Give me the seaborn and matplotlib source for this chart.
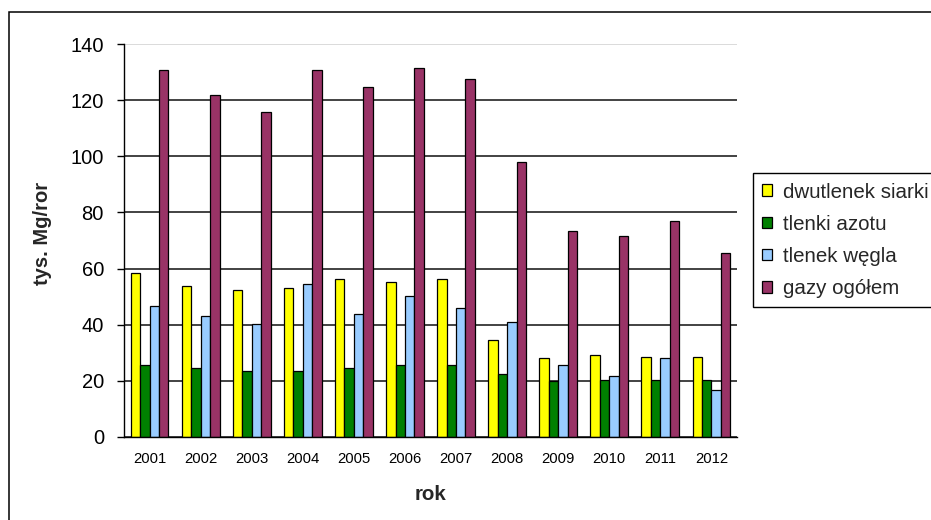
import matplotlib
matplotlib.use("Agg")
import matplotlib.pyplot as plt
import seaborn as sns
import pandas as pd
import numpy as np
from matplotlib.patches import Rectangle
from matplotlib.ticker import FixedLocator, NullFormatter

# Annual emissions, thousand Mg per year
years = ["2001", "2002", "2003", "2004", "2005", "2006",
         "2007", "2008", "2009", "2010", "2011", "2012"]
dwutlenek_siarki = [58.3, 53.8, 52.4, 53.0, 56.4, 55.2, 56.3, 34.6, 28.1, 29.2, 28.6, 28.6]
tlenki_azotu = [25.6, 24.7, 23.6, 23.6, 24.7, 25.6, 25.6, 22.3, 19.8, 20.3, 20.3, 20.3]
tlenek_wegla = [46.8, 43.0, 40.1, 54.4, 43.9, 50.3, 46.0, 41.0, 25.8, 21.7, 28.1, 16.9]
gazy_ogolem = [130.8, 121.8, 115.9, 130.9, 124.8, 131.3, 127.7, 98.1, 73.5, 71.5, 77.0, 65.7]

series_names = ["dwutlenek siarki", "tlenki azotu", "tlenek węgla", "gazy ogółem"]
series_values = [dwutlenek_siarki, tlenki_azotu, tlenek_wegla, gazy_ogolem]
colors = ["#FFFF00", "#008000", "#99CCFF", "#993366"]
yticks = [0, 20, 40, 60, 80, 100, 120, 140]

df = pd.DataFrame({
    "rok": np.tile(years, len(series_names)),
    "wartosc": np.concatenate(series_values),
    "gaz": np.repeat(series_names, len(years)),
})

sns.set_style("white")
plt.rcParams["font.family"] = ["Liberation Sans", "DejaVu Sans"]

W, H = 931, 520
fig = plt.figure(figsize=(W / 100, H / 100), dpi=100)
ax = fig.add_axes([124 / W, 1 - 437 / H, (737 - 124) / W, (437 - 44) / H])

sns.barplot(data=df, x="rok", y="wartosc", hue="gaz", order=years,
            hue_order=series_names, palette=colors, width=0.74,
            edgecolor="black", linewidth=0.9, saturation=1,
            legend=True, ax=ax)

ax.set_xlim(-0.5, len(years) - 0.5)
ax.set_ylim(0, 140)
ax.set_yticks(yticks)
ax.set_axisbelow(True)
ax.yaxis.grid(True, color="#222222", linewidth=1.2)
ax.yaxis.get_gridlines()[-1].set_color("#d4d4d4")
ax.xaxis.grid(False)

for side in ["top", "right"]:
    ax.spines[side].set_visible(False)
for side in ["left", "bottom"]:
    ax.spines[side].set_color("black")
    ax.spines[side].set_linewidth(1.0)

# category labels centred, tick marks on category boundaries
ax.tick_params(axis="x", which="major", length=0, pad=11, labelsize=10.7, colors="black")
ax.xaxis.set_minor_locator(FixedLocator(np.arange(-0.5, len(years), 1.0)))
ax.xaxis.set_minor_formatter(NullFormatter())
ax.tick_params(axis="x", which="minor", length=4, width=1, color="black", direction="out")
ax.tick_params(axis="y", length=5, width=1, color="black", direction="out",
               pad=9.4, labelsize=14.5, labelcolor="black", left=True)

ax.set_xlabel("rok", fontsize=14.8, fontweight="bold")
ax.xaxis.label.set_va("center")
ax.xaxis.set_label_coords(0.5, (437 - 494) / 393)
ax.set_ylabel("tys. Mg/ror", fontsize=14.5, fontweight="bold")
ax.yaxis.label.set_va("center")
ax.yaxis.set_label_coords((42 - 124) / 613, (437 - 233) / 393)

handles, labels = ax.get_legend_handles_labels()
leg = ax.legend(handles, labels, loc="upper left",
                bbox_to_anchor=(752.7 / W, 1 - 173.3 / H),
                bbox_transform=fig.transFigure, borderaxespad=0,
                fontsize=14.8, frameon=True, fancybox=False,
                handlelength=0.5, handleheight=0.5, handletextpad=0.5,
                labelspacing=0.64, borderpad=0.45)
leg.get_frame().set_edgecolor("black")
leg.get_frame().set_linewidth(1.0)
leg.get_frame().set_alpha(1)

# chart border
fig.patches.append(Rectangle((8.5 / W, -0.1), 1.2, 1.1 - 12.5 / H,
                             transform=fig.transFigure, fill=False,
                             edgecolor="black", linewidth=1.1))

fig.savefig("out.png", dpi=100)
